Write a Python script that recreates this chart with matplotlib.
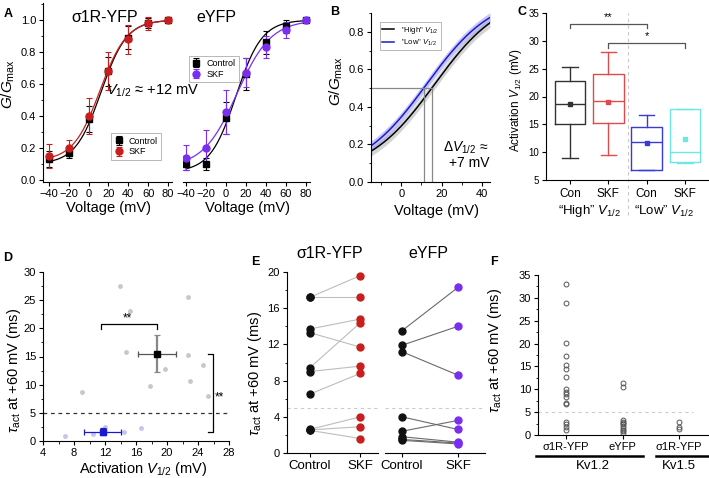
import numpy as np
import matplotlib
matplotlib.use("Agg")
from matplotlib import pyplot as plt
from matplotlib.lines import Line2D
from matplotlib.ticker import MultipleLocator

plt.rcParams['font.family'] = ['Liberation Sans', 'DejaVu Sans']
plt.rcParams['mathtext.fontset'] = 'custom'
plt.rcParams['mathtext.rm'] = 'Liberation Sans'
plt.rcParams['mathtext.it'] = 'Liberation Sans:italic'
plt.rcParams['mathtext.bf'] = 'Liberation Sans:bold'
plt.rcParams['axes.linewidth'] = 0.8
plt.rcParams['xtick.major.width'] = 0.8
plt.rcParams['ytick.major.width'] = 0.8
plt.rcParams['xtick.major.size'] = 3
plt.rcParams['ytick.major.size'] = 3
plt.rcParams['xtick.minor.size'] = 1.8
plt.rcParams['ytick.minor.size'] = 1.8

# ---- panel A: G/Gmax vs voltage
volt = [-40, -20, 0, 20, 40, 60, 80]
s1r_ctrl = [0.13, 0.17, 0.38, 0.68, 0.89, 0.98, 1.00]
s1r_ctrl_err = [0.05, 0.03, 0.08, 0.09, 0.07, 0.03, 0.0]
s1r_skf = [0.15, 0.20, 0.40, 0.68, 0.88, 0.98, 1.00]
s1r_skf_err = [0.075, 0.05, 0.11, 0.12, 0.09, 0.04, 0.0]
eyfp_ctrl = [0.10, 0.10, 0.39, 0.66, 0.86, 0.96, 1.00]
eyfp_ctrl_err = [0.035, 0.04, 0.10, 0.10, 0.07, 0.04, 0.0]
eyfp_skf = [0.14, 0.20, 0.425, 0.67, 0.83, 0.94, 1.00]
eyfp_skf_err = [0.08, 0.11, 0.14, 0.09, 0.07, 0.05, 0.0]
# Boltzmann fit parameters (A1, A2, V0, dx)
s1r_ctrl_fit = (0.10, 1.0, 12.5, 13.0)
s1r_skf_fit = (0.12, 1.0, 11.5, 13.5)
eyfp_ctrl_fit = (0.05, 1.0, 10.0, 13.0)
eyfp_skf_fit = (0.08, 1.0, 11.0, 17.0)

# ---- panel B: mean fits
high_fit = (0.04, 1.0, 16.5, 16.5)
low_fit = (0.04, 1.0, 12.5, 16.5)
high_v12 = 15.3
low_v12 = 11.3
band = 0.025

# ---- panel C: box stats
box_labels = ['Con', 'SKF', 'Con', 'SKF']
box_q1 = [15.0, 15.3, 6.8, 8.2]
box_med = [18.7, 19.2, 11.8, 10.0]
box_q3 = [22.8, 24.0, 14.5, 17.7]
box_lo = [9.0, 9.5, 6.8, 8.0]
box_hi = [25.3, 28.0, 16.6, 17.7]
box_mean = [18.7, 19.1, 11.6, 12.3]

# ---- panel D: tau vs V1/2
high_v = [13.9, 22.7, 15.2, 14.7, 22.7, 24.7, 19.8, 23.0, 17.8, 9.0, 25.3]
high_tau = [27.6, 25.5, 23.0, 15.8, 15.2, 13.5, 12.8, 10.7, 9.7, 8.7, 8.0]
low_v = [6.9, 10.4, 12.0, 14.5, 16.6, 11.7]
low_tau = [0.8, 1.2, 2.4, 1.6, 2.3, 1.6]
high_mean = (18.7, 15.5)
high_sem = (2.5, 3.3)
low_mean = (11.7, 1.65)
low_sem = (2.4, 0.6)

# ---- panel E: paired tau
s1r_tau_ctrl = [17.2, 17.2, 13.7, 13.3, 9.4, 9.0, 6.5, 2.6, 2.55, 2.5]
s1r_tau_skf = [19.6, 17.2, 14.8, 11.7, 14.4, 9.6, 8.8, 4.0, 2.9, 1.6]
eyfp_tau_ctrl = [13.5, 11.9, 11.2, 4.0, 2.4, 1.8, 1.5, 1.4]
eyfp_tau_skf = [18.3, 14.0, 8.6, 2.6, 3.6, 1.2, 1.1, 1.0]

# ---- panel F: tau distribution
f_labels = ['σ1R-YFP', 'eYFP', 'σ1R-YFP']
f_kv12_s1r = [33.0, 28.9, 20.1, 17.3, 15.3, 14.4, 12.7, 10.0, 9.5, 8.9, 8.4, 7.0, 6.7, 2.8, 2.4, 1.8, 1.1]
f_kv12_eyfp = [11.3, 10.6, 3.2, 2.9, 2.6, 2.3, 2.0, 1.6, 1.2, 0.8, 0.5]
f_kv15_s1r = [2.9, 1.7, 1.3]

RED = '#c81e1e'
PURPLE = '#7a2ef0'
W, H = 709, 478

fig = plt.figure(figsize=(W / 100, H / 100), dpi=100)


def add_ax(l, t, r, b):
    return fig.add_axes([l / W, 1 - b / H, (r - l) / W, (b - t) / H])


def boltz(v, p):
    a1, a2, v0, dx = p
    return a2 + (a1 - a2) / (1 + np.exp((v - v0) / dx))


def clean(ax, left=True):
    ax.spines['top'].set_visible(False)
    ax.spines['right'].set_visible(False)
    if not left:
        ax.spines['left'].set_visible(False)
        ax.tick_params(axis='y', which='both', left=False, labelleft=False)


def fig_text(x, y, s, **kw):
    fig.text(x / W, 1 - y / H, s, **kw)


vv = np.linspace(-40, 80, 200)

# ================= A =================
for i, (ctrl, ce, skf, se, fc, fs, col, l, r) in enumerate([
        (s1r_ctrl, s1r_ctrl_err, s1r_skf, s1r_skf_err, s1r_ctrl_fit, s1r_skf_fit, RED, 43, 172),
        (eyfp_ctrl, eyfp_ctrl_err, eyfp_skf, eyfp_skf_err, eyfp_ctrl_fit, eyfp_skf_fit, PURPLE, 183, 310)]):
    ax = add_ax(l, 3, r, 182)
    ax.plot(vv, boltz(vv, fc), color='k', lw=0.9)
    ax.plot(vv, boltz(vv, fs), color=col, lw=0.9)
    ax.errorbar(volt, ctrl, yerr=ce, fmt='s', color='k', ms=4.5, capsize=2,
                elinewidth=0.8, capthick=0.8, label='Control', zorder=3)
    ax.errorbar(volt, skf, yerr=se, fmt='o', color=col, ms=5, capsize=2,
                elinewidth=0.8, capthick=0.8, label='SKF', zorder=3)
    ax.set_xlim(-46 if i == 0 else -43, 84)
    ax.set_ylim(-0.0125, 1.106)
    ax.set_xticks([-40, -20, 0, 20, 40, 60, 80])
    ax.set_xticklabels(['\u221240', '\u221220', '0', '20', '40', '60', '80'])
    ax.set_yticks([0, 0.2, 0.4, 0.6, 0.8, 1.0])
    ax.yaxis.set_minor_locator(MultipleLocator(0.1))
    ax.tick_params(labelsize=8, pad=2)
    ax.set_xlabel('Voltage (mV)', fontsize=10.5)
    ax.xaxis.set_label_coords(0.51, -0.105)
    clean(ax, left=(i == 0))
    if i == 0:
        ax.set_ylabel(r'$G/G_{\rm max}$', fontsize=11)
        ax.yaxis.set_label_coords(-0.2, 0.55)
        leg = ax.legend(loc='lower right', bbox_to_anchor=(0.95, 0.1), fontsize=6.5,
                        handlelength=1, handletextpad=0.6, borderpad=0.35,
                        labelspacing=0.2, fancybox=False, edgecolor='#999999')
    else:
        leg = ax.legend(loc='upper left', bbox_to_anchor=(0.01, 0.73), fontsize=6.5,
                        handlelength=1, handletextpad=0.6, borderpad=0.35,
                        labelspacing=0.2, fancybox=False, edgecolor='#999999')
    leg.get_frame().set_linewidth(0.6)

fig_text(105, 18, 'σ1R-YFP', fontsize=11.5, ha='center', va='center')
fig_text(216, 18, 'eYFP', fontsize=11.5, ha='center', va='center')
fig_text(106, 91, r'$V_{1/2}$' + ' \u2248 +12 mV', fontsize=10.5, va='center')

# ================= B =================
ax = add_ax(371, 13, 490, 182)
vb = np.linspace(-15, 44, 200)
gh = boltz(vb, high_fit)
gl = boltz(vb, low_fit)
ax.fill_between(vb, gh - band, gh + band, color='#b8b8b8', alpha=0.6, lw=0)
ax.fill_between(vb, gl - band, gl + band, color='#9a9af0', alpha=0.55, lw=0)
ax.plot(vb, gh, color='k', lw=1.1, label='"High" $V_{1/2}$')
ax.plot(vb, gl, color='#1a1ad0', lw=1.1, label='"Low" $V_{1/2}$')
ax.plot([-15, high_v12], [0.5, 0.5], color='#888888', lw=0.9)
ax.plot([low_v12, low_v12], [0, 0.5], color='#888888', lw=0.9)
ax.plot([high_v12, high_v12], [0, 0.5], color='#888888', lw=0.9)
ax.set_xlim(-15, 44)
ax.set_ylim(0, 0.9)
ax.set_xticks([0, 20, 40])
ax.xaxis.set_minor_locator(MultipleLocator(10))
ax.set_yticks([0, 0.2, 0.4, 0.6, 0.8])
ax.yaxis.set_minor_locator(MultipleLocator(0.1))
ax.tick_params(labelsize=8, pad=2)
clean(ax)
ax.set_xlabel('Voltage (mV)', fontsize=10.5)
ax.xaxis.set_label_coords(0.55, -0.13)
ax.set_ylabel(r'$G/G_{\rm max}$', fontsize=11)
ax.yaxis.set_label_coords(-0.22, 0.6)
leg = ax.legend(loc='upper left', bbox_to_anchor=(0.04, 0.97), fontsize=5.5,
                handlelength=1.6, borderpad=0.35, labelspacing=0.25,
                fancybox=False, edgecolor='#999999')
leg.get_frame().set_linewidth(0.6)
fig_text(466, 148, r'$\Delta V_{1/2}$' + ' \u2248', fontsize=10, ha='center', va='center')
fig_text(469, 163, '+7 mV', fontsize=10, ha='center', va='center')

# ================= C =================
ax = add_ax(546, 13, 709, 180)
box_colors = ['#333333', '#e04a4a', '#3a3ad6', '#6ee6e6']
for k in range(4):
    st = dict(med=box_med[k], q1=box_q1[k], q3=box_q3[k], whislo=box_lo[k],
              whishi=box_hi[k], mean=box_mean[k], fliers=[])
    c = box_colors[k]
    ax.bxp([st], positions=[k + 1], widths=0.8, capwidths=0.4, showmeans=True,
           boxprops=dict(color=c, lw=1), whiskerprops=dict(color=c, lw=1),
           capprops=dict(color=c, lw=1), medianprops=dict(color=c, lw=1),
           meanprops=dict(marker='s', markersize=2.5, markerfacecolor=c, markeredgecolor=c))
ax.axvline(2.5, ymin=-0.21, ymax=1, color='#c8c8c8', lw=0.8, ls=(0, (3, 3)), clip_on=False)
# significance brackets
ax.plot([1, 1, 3, 3], [32.25, 33.0, 33.0, 32.25], color='#555555', lw=0.9)
ax.text(2, 34.3, '**', fontsize=8, ha='center', va='center')
ax.plot([2, 2, 4, 4], [28.8, 29.65, 29.65, 28.8], color='#555555', lw=0.9)
ax.text(3, 30.8, '*', fontsize=8, ha='center', va='center')
ax.set_xlim(0.37, 4.63)
ax.set_ylim(5, 35)
ax.set_xticks([1, 2, 3, 4])
ax.set_xticklabels(box_labels)
ax.set_yticks(range(5, 36, 5))
ax.tick_params(axis='y', labelsize=7, pad=2)
ax.tick_params(axis='x', labelsize=8.5, pad=3)
clean(ax)
ax.set_ylabel(r'Activation $V_{1/2}$ (mV)', fontsize=8.5)
ax.yaxis.set_label_coords(-0.135, 0.48)
fig_text(590, 211, '\u201cHigh\u201d ' + r'$V_{1/2}$', fontsize=9.5, ha='center', va='center')
fig_text(664, 211, '\u201cLow\u201d ' + r'$V_{1/2}$', fontsize=9.5, ha='center', va='center')

# ================= D =================
ax = add_ax(43, 272, 229, 441)
ax.axhline(5, color='#333333', lw=0.9, ls=(0, (3, 3)))
ax.plot(high_v, high_tau, 'o', color='#c8c8c8', ms=3.5, mec='none')
ax.plot(low_v, low_tau, 'o', color='#c4c4ee', ms=3.5, mec='none')
ax.errorbar([high_mean[0]], [high_mean[1]], xerr=[high_sem[0]], fmt='none',
            ecolor='#555555', elinewidth=0.9, capsize=2.5, capthick=0.9)
ax.errorbar([high_mean[0]], [high_mean[1]], yerr=[high_sem[1]], fmt='none',
            ecolor='#888888', elinewidth=1.6, capsize=2.5, capthick=0.9)
ax.plot([high_mean[0]], [high_mean[1]], 's', color='k', ms=4.5)
ax.errorbar([low_mean[0]], [low_mean[1]], xerr=[low_sem[0]], yerr=[low_sem[1]],
            fmt='s', color='#1a1ad0', ms=4.5, elinewidth=0.9, capsize=2.5, capthick=0.9)
ax.plot([11.44, 11.44, 18.67, 18.67], [19.9, 20.8, 20.8, 19.9], color='k', lw=0.9)
ax.text(14.9, 21.8, '**', fontsize=8.5, ha='center', va='center')
ax.plot([25.3, 25.9, 25.9, 25.3], [15.4, 15.4, 1.65, 1.65], color='k', lw=0.9)
ax.text(26.1, 7.7, '**', fontsize=8.5, ha='left', va='center')
ax.set_xlim(4, 28)
ax.set_ylim(0, 30)
ax.set_xticks(range(4, 29, 4))
ax.xaxis.set_minor_locator(MultipleLocator(2))
ax.set_yticks(range(0, 31, 5))
ax.yaxis.set_minor_locator(MultipleLocator(2.5))
ax.tick_params(labelsize=8, pad=2)
clean(ax)
ax.set_xlabel(r'Activation $V_{1/2}$ (mV)', fontsize=10.5)
ax.xaxis.set_label_coords(0.54, -0.11)
ax.set_ylabel(r'$\tau_{\rm act}$ at +60 mV (ms)', fontsize=10.5)
ax.yaxis.set_label_coords(-0.11, 0.42)

# ================= E =================
for i, (ctrl, skf, col, lcol, l, r, xl) in enumerate([
        (s1r_tau_ctrl, s1r_tau_skf, RED, '#bdbdbd', 287, 378, (-0.45, 1.35)),
        (eyfp_tau_ctrl, eyfp_tau_skf, PURPLE, '#6a6a6a', 385, 485, (-0.3, 1.48))]):
    ax = add_ax(l, 272, r, 453)
    ax.axhline(5, color='#cccccc', lw=0.8, ls=(0, (3, 3)))
    for c0, c1 in zip(ctrl, skf):
        ax.plot([0, 1], [c0, c1], color=lcol, lw=0.8, zorder=1)
    ax.plot([0] * len(ctrl), ctrl, 'o', color='#111111', ms=5, zorder=3)
    ax.plot([1] * len(skf), skf, 'o', color=col, ms=5, zorder=3)
    ax.set_xlim(*xl)
    ax.set_ylim(0, 20)
    ax.set_xticks([0, 1])
    ax.set_xticklabels(['Control', 'SKF'])
    ax.set_yticks(range(0, 21, 4))
    ax.yaxis.set_minor_locator(MultipleLocator(2))
    ax.tick_params(axis='x', labelsize=9.5, pad=2)
    ax.tick_params(axis='y', labelsize=8, pad=2)
    clean(ax, left=(i == 0))
    if i == 0:
        ax.set_ylabel(r'$\tau_{\rm act}$ at +60 mV (ms)', fontsize=10.5)
        ax.yaxis.set_label_coords(-0.25, 0.44)
fig_text(330, 253, 'σ1R-YFP', fontsize=11.5, ha='center', va='center')
fig_text(428, 253, 'eYFP', fontsize=11.5, ha='center', va='center')

# ================= F =================
ax = add_ax(538, 275, 710, 435)
ax.axhline(5, xmax=0.9, color='#cccccc', lw=0.8, ls=(0, (3, 3)))
for k, vals in enumerate([f_kv12_s1r, f_kv12_eyfp, f_kv15_s1r]):
    ax.plot([k] * len(vals), vals, 'o', mfc='none', mec='#555555', mew=0.7, ms=3.5)
ax.set_xlim(-0.5, 2.55)
ax.set_ylim(0, 35)
ax.set_xticks([0, 1, 2])
ax.set_xticklabels(f_labels)
ax.set_yticks(range(0, 36, 5))
ax.yaxis.set_minor_locator(MultipleLocator(2.5))
ax.tick_params(axis='x', labelsize=8, pad=2)
ax.tick_params(axis='y', labelsize=8, pad=2)
clean(ax)
ax.set_ylabel(r'$\tau_{\rm act}$ at +60 mV (ms)', fontsize=10.5)
ax.yaxis.set_label_coords(-0.2, 0.53)
for x0, x1 in [(536, 643), (656, 709)]:
    fig.add_artist(Line2D([x0 / W, x1 / W], [1 - 456 / H] * 2, color='k', lw=1.8))
fig_text(593, 466, 'Kv1.2', fontsize=9.5, ha='center', va='center')
fig_text(679, 466, 'Kv1.5', fontsize=9.5, ha='center', va='center')

# panel letters
for s, x, y in [('A', 8, 14), ('B', 335, 12), ('C', 522, 12),
                ('D', 8, 258), ('E', 255, 262), ('F', 494, 262)]:
    fig_text(x, y, s, fontsize=9, fontweight='bold', ha='center', va='center')

fig.savefig('out.png', dpi=100)
